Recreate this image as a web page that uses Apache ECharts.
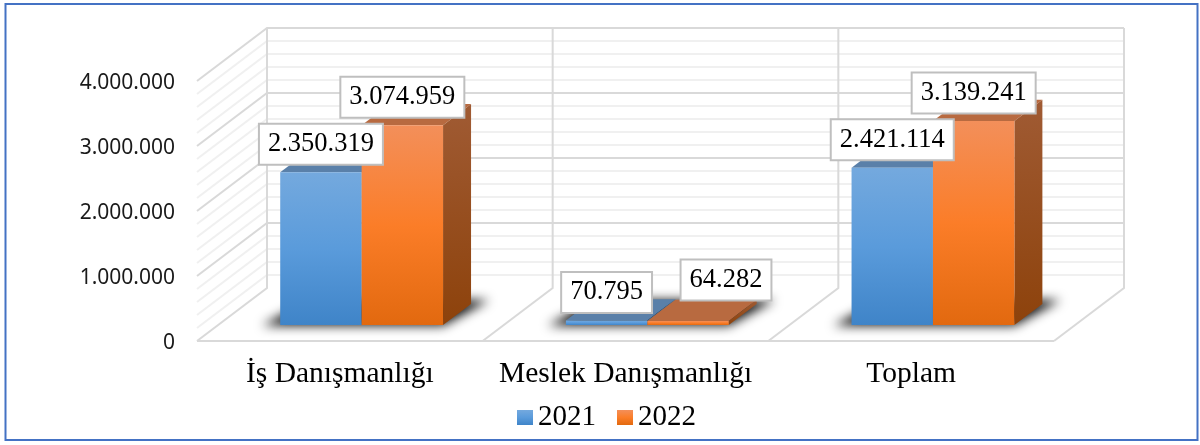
<!DOCTYPE html>
<html>
<head>
<meta charset="utf-8">
<style>
  html, body { margin: 0; padding: 0; background: #fff; }
  #chart { width: 1200px; height: 445px; }
</style>
<script src="https://cdn.jsdelivr.net/npm/echarts@6/dist/echarts.min.js"></script>
</head>
<body>
<div id="chart"></div>
<script>
const categories = ['İş Danışmanlığı', 'Meslek Danışmanlığı', 'Toplam'];
const years = ['2021', '2022'];
const values2021 = [2350319, 70795, 2421114];
const values2022 = [3074959, 64282, 3139241];
const majorTicks = [0, 1000000, 2000000, 3000000, 4000000];
const minorTicks = [
  200000, 400000, 600000, 800000,
  1200000, 1400000, 1600000, 1800000,
  2200000, 2400000, 2600000, 2800000,
  3200000, 3400000, 3600000, 3800000
];

// how far the back of the box sits from the front plane
const DEPTH_X = 70;
const DEPTH_Y = -53;
// bars stand between these depth fractions
const BAR_FRONT = 0.3;
const BAR_BACK = 0.7;
const BAR_MARGIN = 0.215; // of the category band, each side
const BAR_NUDGE = 0.8;

const serif = '"Liberation Serif", "Times New Roman", serif';
const chart = echarts.init(document.getElementById('chart'));

function depth (pt, f) {
  return [pt[0] + DEPTH_X * f, pt[1] + DEPTH_Y * f];
}

function grad (stops) {
  return new echarts.graphic.LinearGradient(0, 0, 0, 1, stops.map((c, i) => ({
    offset: i / (stops.length - 1), color: c
  })));
}

const blueFront = ['#74a9de', '#5a9bdb', '#3f84c8'];
const orangeFront = ['#f38f5a', '#fb7d28', '#e2690f'];
const palette = [
  { front: blueFront, top: '#5a80a9', side: ['#3d6f9e', '#2a5f91'] },
  { front: orangeFront, top: '#b86a40', side: ['#a05b34', '#8d420b'] }
];

// one horizontal grid line: left wall + back wall
function wallLine (color) {
  return function (params, api) {
    const cs = params.coordSys;
    const y = api.coord([0, api.value(1)])[1];
    const a = [cs.x, y];
    const b = depth(a, 1);
    const c = [cs.x + cs.width + DEPTH_X, b[1]];
    return {
      type: 'polyline',
      shape: { points: [a, b, c] },
      style: { stroke: color, lineWidth: 2, fill: null }
    };
  };
}

function boxFrame (params, api) {
  const cs = params.coordSys;
  const band = cs.width / categories.length;
  const base = api.coord([0, 0])[1];
  const top = api.coord([0, majorTicks[majorTicks.length - 1]])[1];
  const children = [];
  for (let i = 0; i <= categories.length; i++) {
    const f = [cs.x + band * i, base];
    const b = depth(f, 1);
    children.push({
      type: 'polyline',
      shape: { points: [f, b, [b[0], top + DEPTH_Y]] },
      style: { stroke: '#d9d9d9', lineWidth: 2, fill: null }
    });
  }
  children.push({
    type: 'line',
    shape: { x1: cs.x, y1: base, x2: cs.x + cs.width, y2: base },
    style: { stroke: '#d9d9d9', lineWidth: 2 }
  });
  return { type: 'group', children };
}

function barX (api, idx, s) {
  const band = api.size([1, 0])[0];
  const left = api.coord([idx, 0])[0] - band / 2 + band * BAR_MARGIN + DEPTH_X * BAR_FRONT + BAR_NUDGE;
  const w = band * (1 - BAR_MARGIN * 2) / years.length;
  return [left + w * s, w];
}

function floorShadow (params, api) {
  const idx = api.value(0);
  const band = api.size([1, 0])[0];
  const left = barX(api, idx, 0)[0];
  const right = left + band * (1 - BAR_MARGIN * 2);
  const y = api.coord([idx, 0])[1] + DEPTH_Y * BAR_FRONT;
  const far = 3000; // the shape itself stays off canvas, only its blur shows
  return {
    type: 'polygon',
    shape: { points: [
      [left - 18 - far, y + 0.5], [right - far, y + 0.5],
      [right + 46 - far, y - 25], [left + 30 - far, y - 25]
    ] },
    style: {
      fill: '#222', shadowColor: 'rgba(15,15,15,1)', shadowBlur: 11, shadowOffsetX: far
    }
  };
}

function barBox (s) {
  return function (params, api) {
    const idx = api.value(0);
    const val = api.value(1);
    const bx = barX(api, idx, s);
    const base = api.coord([idx, 0])[1] + DEPTH_Y * BAR_FRONT;
    const top = api.coord([idx, val])[1] + DEPTH_Y * BAR_FRONT;
    const x0 = bx[0], x1 = bx[0] + bx[1];
    const d = BAR_BACK - BAR_FRONT;
    const dx = DEPTH_X * d, dy = DEPTH_Y * d;
    const c = palette[s];
    return {
      type: 'group',
      children: [
        {
          type: 'polygon',
          shape: { points: [[x0, top], [x1, top], [x1 + dx, top + dy], [x0 + dx, top + dy]] },
          style: { fill: c.top }
        },
        {
          type: 'polygon',
          shape: { points: [[x1, top], [x1 + dx, top + dy], [x1 + dx, base + dy], [x1, base]] },
          style: { fill: grad(c.side) }
        },
        {
          type: 'rect',
          shape: { x: x0, y: top, width: x1 - x0, height: base - top },
          style: { fill: grad(c.front) }
        }
      ]
    };
  };
}

// the 64.282 box was dragged away from its bar in the original
const movedLabel = { series: 1, cat: 1, dx: 38, dy: -13 };

function dotted (v) {
  return String(v).replace(/\B(?=(\d{3})+$)/g, '.');
}

function valueLabel (params, api) {
  const idx = api.value(0);
  const s = api.value(2);
  const bx = barX(api, idx, s);
  let x = bx[0] + bx[1] / 2;
  let y = api.coord([idx, api.value(1)])[1] + DEPTH_Y * BAR_FRONT - 28;
  if (s === movedLabel.series && idx === movedLabel.cat) {
    x += movedLabel.dx;
    y += movedLabel.dy;
  }
  return {
    type: 'text',
    style: {
      text: dotted(api.value(1)),
      x, y,
      align: 'center',
      verticalAlign: 'middle',
      fontFamily: serif,
      fontSize: 26.5,
      fill: '#000',
      backgroundColor: '#fff',
      borderColor: '#bfbfbf',
      borderWidth: 2,
      padding: [6, 8, 6, 8]
    }
  };
}

const catIdx = categories.map((c, i) => [i]);

const option = {
  animation: false,
  backgroundColor: '#fff',
  graphic: [{
    type: 'rect',
    shape: { x: 5.5, y: 4, width: 1192, height: 436 },
    style: { fill: null, stroke: '#4472c4', lineWidth: 2 },
    silent: true
  }],
  grid: { left: 197, right: 146, top: 81, bottom: 104 },
  legend: {
    left: 512,
    top: 398,
    selectedMode: false,
    itemWidth: 16,
    itemHeight: 15,
    itemGap: 21,
    textStyle: { fontFamily: serif, fontSize: 29, color: '#000' },
    data: [
      { name: years[0], icon: 'rect', itemStyle: { color: grad(blueFront) } },
      { name: years[1], icon: 'rect', itemStyle: { color: grad(orangeFront) } }
    ]
  },
  xAxis: {
    type: 'category',
    data: categories,
    axisLine: { show: false },
    axisTick: { show: false },
    axisLabel: { fontFamily: serif, fontSize: 29.5, color: '#000', margin: 18, interval: 0 }
  },
  yAxis: {
    type: 'value',
    min: 0,
    max: 4000000,
    interval: 1000000,
    axisLine: { show: false },
    axisTick: { show: false },
    splitLine: { show: false },
    axisLabel: {
      fontFamily: '"Noto Sans", sans-serif',
      fontSize: 21,
      color: '#1a1a1a',
      margin: 22,
      verticalAlign: 'top',
      lineHeight: 4,
      formatter: dotted
    }
  },
  series: [
    {
      type: 'custom', name: 'minor', silent: true, z: 1,
      renderItem: wallLine('#f0f0f0'),
      data: minorTicks.map(v => [0, v])
    },
    {
      type: 'custom', name: 'major', silent: true, z: 2,
      renderItem: wallLine('#d9d9d9'),
      data: majorTicks.slice(1).map(v => [0, v])
    },
    {
      type: 'custom', name: 'frame', silent: true, z: 2,
      renderItem: boxFrame,
      data: [[0, 0]]
    },
    {
      type: 'custom', name: 'shadow', silent: true, z: 3,
      renderItem: floorShadow,
      data: catIdx.map(c => [c[0], 0])
    },
    {
      type: 'custom', name: years[0], z: 4,
      renderItem: barBox(0),
      data: values2021.map((v, i) => [i, v])
    },
    {
      type: 'custom', name: years[1], z: 5,
      renderItem: barBox(1),
      data: values2022.map((v, i) => [i, v])
    },
    {
      type: 'custom', name: 'labels', silent: true, z: 6,
      renderItem: valueLabel,
      data: values2021.map((v, i) => [i, v, 0]).concat(values2022.map((v, i) => [i, v, 1]))
    }
  ]
};

chart.setOption(option);
</script>
</body>
</html>
